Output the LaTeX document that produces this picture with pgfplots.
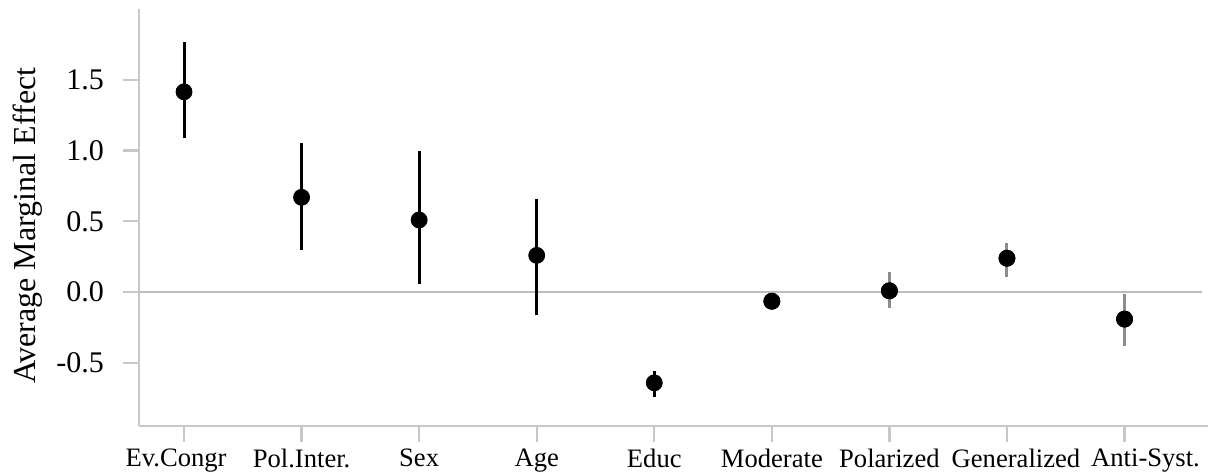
\documentclass[border=0pt]{standalone}
\usepackage{pgfplots}
\pgfplotsset{compat=1.18}
\usepackage{fontspec}
\setmainfont{Liberation Serif}
\usetikzlibrary{calc}
\definecolor{axgray}{HTML}{C8C8C8}
\definecolor{zerogray}{HTML}{BDBDBD}
\definecolor{errgray}{HTML}{8C8C8C}
\begin{document}
\begin{tikzpicture}
\begin{axis}[
  name=ax,
  scale only axis,
  width=534.5pt, height=208.5pt,
  xmin=-0.383, xmax=8.71,
  ymin=-0.945, ymax=2.0,
  axis x line=bottom, axis y line=left,
  axis line style={draw=axgray, line width=0.9pt, -},
  tick align=outside,
  major tick length=8pt,
  tick style={draw=axgray, line width=1.1pt},
  xtick={0,1,2,3,4,5,6,7,8},
  xticklabels={\hspace*{-8pt}Ev.Congr,Pol.Inter.,Sex,Age,Educ,Moderate,Polarized,\hspace*{9pt}Generalized,\hspace*{21pt}Anti-Syst.},
  ytick={-0.5,0,0.5,1,1.5},
  yticklabels={-0.5,0.0,0.5,1.0,1.5},
  xticklabel style={font=\fontsize{13.3}{15}\selectfont},
  yticklabel style={font=\fontsize{15}{17}\selectfont, xshift=-6pt},
  ylabel={Average Marginal Effect},
  every axis y label/.style={at={(axis description cs:-0.0964,0.48)}, anchor=base, rotate=90, font=\fontsize{16}{18}\selectfont},
  clip=false,
]
\addplot[zerogray, line width=1pt] coordinates {(-0.383,0) (8.66,0)};
\addplot[only marks, mark=*, mark size=4pt, black,
  error bars/.cd, y dir=both, y explicit, error mark=none,
  error bar style={black, line width=1.5pt}]
  table[x=x, y=y, y error plus=ep, y error minus=em] {
x y ep em
0 1.415 0.355 0.325
1 0.67 0.383 0.37
2 0.51 0.49 0.45
3 0.26 0.40 0.42
4 -0.64 0.08 0.10
};
\addplot[only marks, mark=*, mark size=4pt, black,
  error bars/.cd, y dir=both, y explicit, error mark=none,
  error bar style={errgray, line width=1.5pt}]
  table[x=x, y=y, y error plus=ep, y error minus=em] {
x y ep em
5 -0.064 0.03 0.03
6 0.01 0.13 0.12
7 0.24 0.11 0.13
8 -0.19 0.175 0.19
};
% redraw marks on top of gray error bars
\addplot[only marks, mark=*, mark size=4pt, black] table[x=x, y=y] {
x y
5 -0.064
6 0.01
7 0.24
8 -0.19
};
\end{axis}
\pgfresetboundingbox
\path[use as bounding box] ($(ax.south west)+(-69.5pt,-23pt)$) rectangle ($(ax.north east)+(6.5pt,4.5pt)$);
\end{tikzpicture}
\end{document}
